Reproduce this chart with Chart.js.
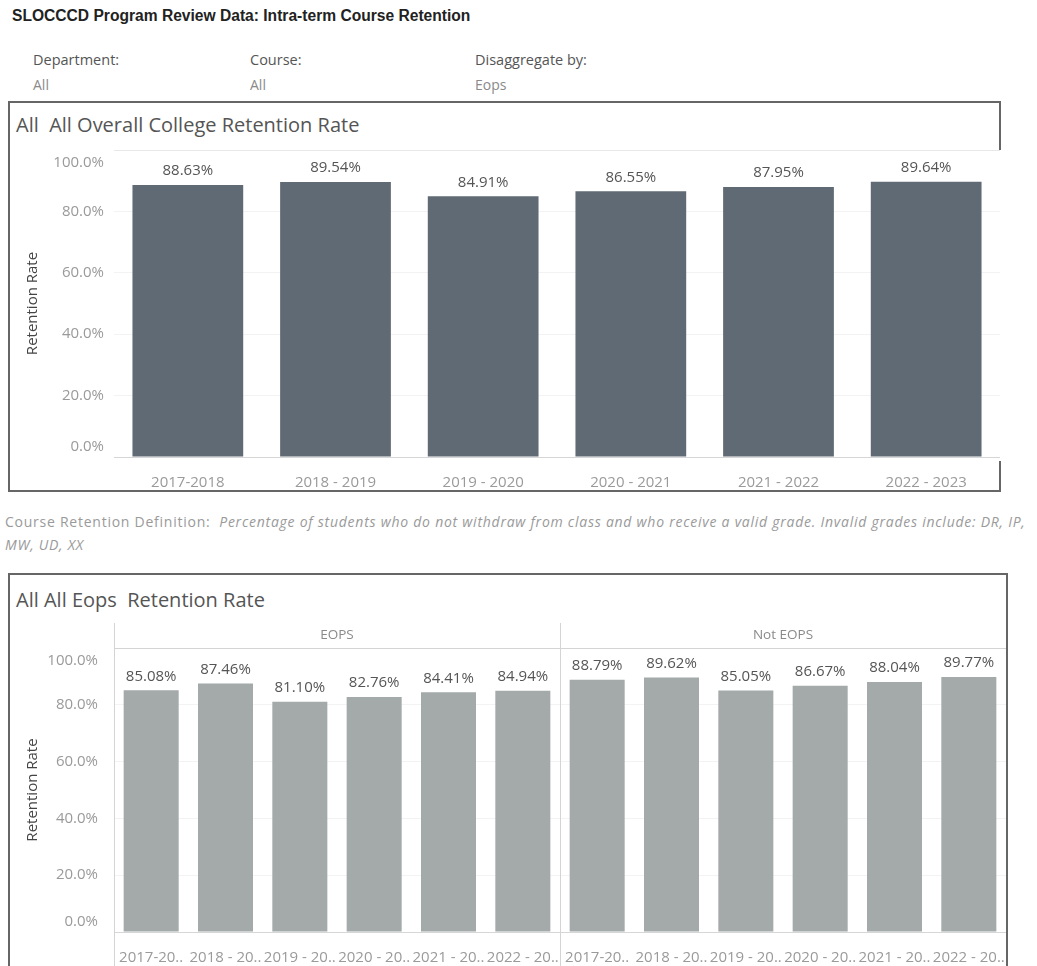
<!DOCTYPE html>
<html lang="en">
<head>
<meta charset="UTF-8" />
<meta name="viewport" content="width=device-width, initial-scale=1.0" />
<title>SLOCCCD Program Review Data: Intra-term Course Retention</title>
<style>
  body { margin: 0; background: #fff; font-family: "Open Sans", sans-serif; overflow: hidden; }
  .abs { position: absolute; white-space: nowrap; }
  h1 { position: absolute; left: 12px; top: 7px; margin: 0; font: bold 15.6px "Liberation Sans", Arial, sans-serif; color: #222; }
  .flabel { font-size: 14.5px; color: #555; line-height: 20px; }
  .fval { font-size: 14px; color: #8a8a8a; line-height: 20px; }
  .box { position: absolute; border: 2px solid #666; box-sizing: border-box; }
  .boxtitle { position: absolute; font-size: 20px; color: #555; line-height: 26px; white-space: nowrap; }
  .def { position: absolute; left: 5px; top: 510px; font-size: 14px; letter-spacing: 0.75px; color: #9a9a9a; line-height: 23px; white-space: nowrap; }
  canvas { position: absolute; }
</style>
</head>
<body>
  <h1>SLOCCCD Program Review Data: Intra-term Course Retention</h1>

  <div class="abs flabel" style="left:33px; top:50px">Department:</div>
  <div class="abs fval" style="left:33px; top:75px">All</div>
  <div class="abs flabel" style="left:250px; top:50px">Course:</div>
  <div class="abs fval" style="left:250px; top:75px">All</div>
  <div class="abs flabel" style="left:475px; top:50px">Disaggregate by:</div>
  <div class="abs fval" style="left:475px; top:75px">Eops</div>

  <div class="box" style="left:8px; top:101px; width:993px; height:391px"></div>
  <div class="boxtitle" style="left:16px; top:112px">All&nbsp; All Overall College Retention Rate</div>
  <canvas id="overallChart" width="992" height="387" style="left:10px; top:103px"></canvas>

  <div class="def">Course Retention Definition:&nbsp; <i>Percentage of students who do not withdraw from class and who receive a valid grade. Invalid grades include: DR, IP,</i><br><i>MW, UD, XX</i></div>

  <div class="box" style="left:8px; top:573px; width:1000px; height:420px"></div>
  <div class="boxtitle" style="left:16px; top:587px">All All Eops&nbsp; Retention Rate</div>
  <canvas id="eopsChart" width="996" height="391" style="left:10px; top:575px"></canvas>

  <script src="https://cdn.jsdelivr.net/npm/chart.js"></script>
  <script>
    const terms = ["2017-2018", "2018 - 2019", "2019 - 2020", "2020 - 2021", "2021 - 2022", "2022 - 2023"];
    const termsShort = ["2017-20..", "2018 - 20..", "2019 - 20..", "2020 - 20..", "2021 - 20..", "2022 - 20.."];
    const overallRate = [88.63, 89.54, 84.91, 86.55, 87.95, 89.64];

    const groups = ["EOPS", "Not EOPS"];
    const eopsRate = [85.08, 87.46, 81.10, 82.76, 84.41, 84.94];
    const notEopsRate = [88.79, 89.62, 85.05, 86.67, 88.04, 89.77];

    const yTicks = [0, 20, 40, 60, 80, 100];

    const FONT = '"Open Sans", sans-serif';

    // axis text, value labels and panel headers drawn in the tableau style
    const tableauLook = {
      id: "tableauLook",
      beforeDraw(chart) {
        const { ctx, chartArea: a } = chart;
        ctx.save();
        ctx.fillStyle = "#fff";
        ctx.fillRect(a.left, a.top, chart.width - a.left, a.bottom - a.top + 4);
        ctx.restore();
      },
      afterDraw(chart, args, opts) {
        const { ctx, chartArea: a, scales: { x, y } } = chart;
        ctx.save();

        // panel frame + headers (only for the split chart)
        if (opts.groups) {
          const per = opts.perGroup;
          const split = (x.getPixelForValue(per - 1) + x.getPixelForValue(per)) / 2;
          ctx.strokeStyle = "#d4d4d4";
          ctx.lineWidth = 1;
          ctx.beginPath();
          ctx.moveTo(a.left + 0.5, opts.headerTop);
          ctx.lineTo(a.left + 0.5, chart.height);
          ctx.moveTo(Math.round(split) + 0.5, opts.headerTop);
          ctx.lineTo(Math.round(split) + 0.5, chart.height);
          ctx.moveTo(a.left, a.top + 0.5);
          ctx.lineTo(a.right, a.top + 0.5);
          ctx.stroke();
          ctx.font = "13.5px " + FONT;
          ctx.fillStyle = "#8a8a8a";
          ctx.textAlign = "center";
          ctx.textBaseline = "middle";
          const bounds = [a.left, split, a.right];
          opts.groups.forEach((g, i) => {
            ctx.fillText(g, (bounds[i] + bounds[i + 1]) / 2, (opts.headerTop + a.top) / 2);
          });
        }

        // y tick labels, pulled inside at both ends
        ctx.font = "15px " + FONT;
        ctx.fillStyle = "#9a9a9a";
        ctx.textAlign = "right";
        ctx.textBaseline = "middle";
        yTicks.forEach(v => {
          let py = y.getPixelForValue(v);
          py = Math.min(Math.max(py, a.top + 13), a.bottom - 10);
          ctx.fillText(v.toFixed(1) + "%", opts.tickRight, py);
        });

        // x tick labels
        ctx.textAlign = "center";
        chart.data.labels.forEach((lab, i) => {
          ctx.fillText(lab, x.getPixelForValue(i), opts.xLabelY);
        });

        // axis title
        ctx.save();
        ctx.translate(opts.titleX, (a.top + a.bottom) / 2);
        ctx.rotate(-Math.PI / 2);
        ctx.font = "15px " + FONT;
        ctx.fillStyle = "#444";
        ctx.fillText("Retention Rate", 0, 0);
        ctx.restore();

        // value labels above the bars
        ctx.font = "15px " + FONT;
        ctx.fillStyle = "#555";
        const meta = chart.getDatasetMeta(0);
        meta.data.forEach((bar, i) => {
          const v = chart.data.datasets[0].data[i];
          ctx.fillText(v.toFixed(2) + "%", bar.x, bar.y - 14);
        });

        ctx.restore();
      }
    };

    const yScale = {
      min: 0,
      max: 100,
      ticks: { display: false, stepSize: 20 },
      border: { display: false },
      grid: {
        drawTicks: false,
        color: c => (c.tick.value === 0 ? "#d6d6d6" : c.tick.value === 100 ? "#e8e8e8" : "#f3f3f3")
      }
    };
    const xScale = {
      ticks: { display: false },
      border: { display: false },
      grid: { display: false }
    };

    new Chart(document.getElementById("overallChart"), {
      type: "bar",
      data: {
        labels: terms,
        datasets: [{
          data: overallRate,
          backgroundColor: "#5f6a74",
          categoryPercentage: 1,
          barPercentage: 0.75
        }]
      },
      options: {
        responsive: false,
        animation: false,
        layout: { padding: { left: 104, right: 2, top: 47, bottom: 25 } },
        plugins: {
          legend: { display: false },
          tooltip: { enabled: false },
          tableauLook: { tickRight: 94, xLabelY: 380, titleX: 23 }
        },
        scales: { x: xScale, y: yScale }
      },
      plugins: [tableauLook]
    });

    new Chart(document.getElementById("eopsChart"), {
      type: "bar",
      data: {
        labels: termsShort.concat(termsShort),
        datasets: [{
          data: eopsRate.concat(notEopsRate),
          backgroundColor: "#a4a9a9",
          categoryPercentage: 1,
          barPercentage: 0.74
        }]
      },
      options: {
        responsive: false,
        animation: false,
        layout: { padding: { left: 104, right: 0, top: 73, bottom: 26 } },
        plugins: {
          legend: { display: false },
          tooltip: { enabled: false },
          tableauLook: {
            tickRight: 88, xLabelY: 383, titleX: 23,
            groups: groups, perGroup: eopsRate.length, headerTop: 48
          }
        },
        scales: { x: xScale, y: yScale }
      },
      plugins: [tableauLook]
    });
  </script>
</body>
</html>
